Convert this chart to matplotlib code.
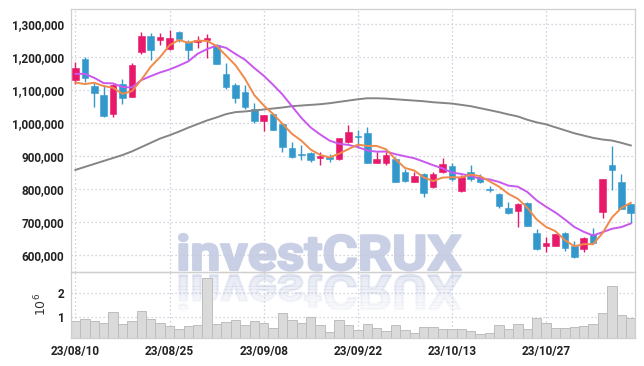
import matplotlib
matplotlib.use('Agg')
import matplotlib.pyplot as plt
from matplotlib.textpath import TextPath
from matplotlib.patches import PathPatch, Rectangle
from matplotlib.font_manager import FontProperties
from matplotlib.transforms import Affine2D, IdentityTransform
from matplotlib.ticker import FuncFormatter, FixedLocator
import numpy as np

# ---------------- data ----------------
dates = ['23/08/10', '23/08/11', '23/08/14', '23/08/16', '23/08/17', '23/08/18',
         '23/08/21', '23/08/22', '23/08/23', '23/08/24', '23/08/25', '23/08/28',
         '23/08/29', '23/08/30', '23/08/31', '23/09/01', '23/09/04', '23/09/05',
         '23/09/06', '23/09/07', '23/09/08', '23/09/11', '23/09/12', '23/09/13',
         '23/09/14', '23/09/15', '23/09/18', '23/09/19', '23/09/20', '23/09/21',
         '23/09/22', '23/09/25', '23/09/26', '23/09/27', '23/10/04', '23/10/05',
         '23/10/06', '23/10/10', '23/10/11', '23/10/12', '23/10/13', '23/10/16',
         '23/10/17', '23/10/18', '23/10/19', '23/10/20', '23/10/23', '23/10/24',
         '23/10/25', '23/10/26', '23/10/27', '23/10/30', '23/10/31', '23/11/01',
         '23/11/02', '23/11/03', '23/11/06', '23/11/07', '23/11/08', '23/11/09']

# prices in thousands of won
opens = [1129, 1193, 1111, 1084, 1026, 1117, 1079, 1214, 1263, 1251, 1224, 1275, 1243, 1245, 1250,
         1235, 1148, 1114, 1092, 1041, 1006, 1026, 995, 924, 905, 907, 892, 897, 889, 942,
         960, 968, 879, 879, 889, 852, 821, 845, 806, 852, 869, 794, 851, 835, 799,
         784, 741, 733, 758, 665, 627, 627, 665, 626, 616, 663, 730, 872, 820, 754]
highs = [1185, 1198, 1119, 1114, 1116, 1132, 1181, 1274, 1271, 1271, 1281, 1277, 1251, 1263, 1269,
         1239, 1180, 1119, 1115, 1061, 1024, 1027, 996, 942, 932, 912, 912, 904, 953, 992,
         979, 986, 912, 912, 897, 859, 852, 849, 852, 892, 879, 842, 872, 846, 808,
         788, 761, 758, 759, 677, 653, 664, 669, 642, 653, 680, 830, 928, 845, 755]
lows = [1116, 1122, 1047, 1018, 1016, 1057, 1077, 1207, 1189, 1235, 1219, 1243, 1189, 1225, 1195,
        1178, 1101, 1059, 1041, 998, 975, 977, 912, 894, 887, 882, 872, 882, 888, 939,
        923, 878, 877, 872, 820, 821, 820, 776, 801, 847, 823, 789, 824, 818, 791,
        741, 723, 683, 686, 613, 609, 625, 611, 589, 609, 632, 710, 796, 737, 695]
closes = [1167, 1136, 1091, 1021, 1114, 1076, 1175, 1263, 1220, 1260, 1256, 1254, 1221, 1252, 1256,
          1179, 1109, 1076, 1048, 1006, 1023, 979, 927, 897, 902, 887, 899, 889, 953, 971,
          956, 879, 889, 902, 821, 824, 839, 786, 845, 875, 829, 836, 829, 821, 797,
          748, 727, 754, 687, 618, 635, 662, 619, 594, 650, 635, 829, 857, 738, 727]

ma5 = [1122, 1117, 1121, 1111, 1105.8, 1087.6, 1095.4, 1129.8, 1169.6, 1198.8, 1234.8, 1250.6,
       1242.2, 1248.6, 1247.8, 1232.4, 1203.4, 1174.4, 1133.6, 1083.6, 1052.4, 1026.4, 996.6,
       966.4, 945.6, 918.4, 902.4, 894.8, 906.0, 919.8, 933.6, 929.6, 929.6, 919.4, 889.4,
       863.0, 855.0, 834.4, 823.0, 833.8, 834.8, 834.2, 842.8, 838.0, 822.4, 806.2, 784.4,
       769.4, 742.6, 706.8, 684.2, 671.2, 644.2, 625.6, 632.0, 632.0, 665.4, 713.0, 741.8, 757.2]
ma10 = [1148, 1148, 1136, 1120, 1119, 1108, 1107, 1129, 1141, 1152.3, 1161.2, 1173.0, 1186.0,
        1209.1, 1223.3, 1233.6, 1227.0, 1208.3, 1191.1, 1165.7, 1142.4, 1114.9, 1085.5, 1050.0,
        1014.6, 985.4, 964.4, 945.7, 936.2, 932.7, 926.0, 916.0, 912.2, 912.7, 904.6, 898.3,
        892.3, 882.0, 871.2, 861.6, 848.9, 844.6, 838.6, 830.5, 828.1, 820.5, 809.3, 806.1,
        790.3, 764.6, 745.2, 727.8, 706.8, 684.1, 669.4, 658.1, 668.3, 678.6, 683.7, 694.6]
ma60 = [857, 866, 875, 884, 893, 902, 913, 926, 939, 952, 962, 973, 985, 996, 1007, 1016, 1026,
        1032, 1034, 1037, 1040, 1043, 1046, 1050, 1052, 1054, 1056, 1059, 1063, 1067, 1071, 1074,
        1074, 1073, 1071, 1069, 1067, 1065, 1062, 1060, 1058, 1054, 1050, 1044, 1038, 1032, 1025,
        1019, 1009, 1001, 995, 986, 977, 968, 961, 954, 949, 946, 939, 931]

# volume in millions of shares
volume = [0.82, 0.89, 0.82, 0.74, 1.19, 0.69, 0.82, 1.24, 0.89, 0.72,
          0.60, 0.47, 0.60, 0.65, 2.67, 0.69, 0.76, 0.86, 0.65, 0.82,
          0.74, 0.50, 1.15, 0.86, 0.74, 0.97, 0.65, 0.36, 0.86, 0.65,
          0.43, 0.69, 0.50, 0.39, 0.65, 0.43, 0.32, 0.57, 0.55, 0.46,
          0.46, 0.46, 0.39, 0.26, 0.29, 0.65, 0.46, 0.69, 0.46, 0.93,
          0.72, 0.50, 0.50, 0.55, 0.60, 0.69, 1.15, 2.31, 1.07, 0.93]

tick_positions = [0, 10, 20, 30, 40, 50]
price_ticks = [600000, 700000, 800000, 900000, 1000000, 1100000, 1200000, 1300000]
volume_ticks = [1e6, 2e6]
volume_tick_labels = ['1', '2']
watermark = 'investCRUX'

# ---------------- style ----------------
UP = '#e8186a'
DOWN = '#3399cc'
C5 = '#f08a4b'
C10 = '#c858ee'
C60 = '#858585'
GRID = '#c6c6d8'
SPINE = '#cfcfcf'
TXT = '#222222'
FONT = 'Roboto'
WM = '#c9d0e6'

W, H = 644, 366
fig = plt.figure(figsize=(W / 100, H / 100), dpi=100)
fig.patch.set_facecolor('white')

L, R = 70.7, 635.5
ax = fig.add_axes([L / W, (H - 272) / H, (R - L) / W, (272 - 9) / H])
axv = fig.add_axes([L / W, (H - 337.7) / H, (R - L) / W, (337.7 - 272) / H], sharex=ax)
for a in (ax, axv):
    a.set_facecolor('none')
    for s in a.spines.values():
        s.set_color(SPINE)
        s.set_linewidth(0.9)
    a.grid(True, linestyle=(0, (1, 2.2)), color=GRID, linewidth=0.9)
    a.set_axisbelow(True)
    a.tick_params(length=0)

x = np.arange(len(dates))
o = np.array(opens) * 1000.0
h = np.array(highs) * 1000.0
l = np.array(lows) * 1000.0
c = np.array(closes) * 1000.0
cols = [UP if cc >= oo else DOWN for oo, cc in zip(o, c)]
bottoms = np.minimum(o, c)
heights = np.maximum(np.abs(c - o), 2500)

ax.vlines(x, l, h, colors=cols, linewidth=1.0, zorder=2)
ax.bar(x, heights, bottom=bottoms, width=0.7, color=cols, edgecolor=cols,
       linewidth=0.4, zorder=3)

ax.plot(x, np.array(ma60) * 1000, color=C60, linewidth=1.4, zorder=4)
ax.plot(x, np.array(ma10) * 1000, color=C10, linewidth=1.4, zorder=4)
ax.plot(x, np.array(ma5) * 1000, color=C5, linewidth=1.4, zorder=5)

ax.set_xlim(-0.5, len(dates) - 0.5)
ax.set_ylim(547600, 1344500)
ax.yaxis.set_major_locator(FixedLocator(price_ticks))
ax.yaxis.set_major_formatter(FuncFormatter(lambda v, p: f'{v:,.0f}'))
ax.tick_params(axis='x', labelbottom=False)
ax.tick_params(axis='y', pad=4.5)
for t in ax.get_yticklabels():
    t.set_fontfamily(FONT)
    t.set_fontweight('bold')
    t.set_fontsize(8.5)
    t.set_color(TXT)

axv.bar(x, np.array(volume) * 1e6, width=1.0, color='#dadada', edgecolor='#bdbdbd',
        linewidth=0.7, zorder=2)
axv.set_ylim(0.1e6, 2.91e6)
axv.set_yticks(volume_ticks)
axv.set_yticklabels(volume_tick_labels)
axv.set_xticks(tick_positions)
axv.set_xticklabels([dates[i] for i in tick_positions])
axv.tick_params(axis='y', pad=4.5)
axv.tick_params(axis='x', pad=5)
for t in axv.get_yticklabels() + axv.get_xticklabels():
    t.set_fontfamily(FONT)
    t.set_fontweight('bold')
    t.set_fontsize(8.5)
    t.set_color(TXT)
axv.set_ylabel('$10^6$', fontsize=9, color='#333333', labelpad=6)
ax.set_xticks(tick_positions)

# ---------------- watermark with reflection ----------------
fp = FontProperties(family='Roboto', weight='bold')
tp = TextPath((0, 0), watermark, size=100, prop=fp)
bb = tp.get_extents()
x0, x1 = 179, 461
ytop, ybot = 234, 270.5
sx = (x1 - x0) / bb.width
sy = (ybot - ytop) / bb.height
tr = Affine2D().translate(-bb.x0, -bb.y0).scale(sx, sy).translate(x0, H - ybot)
wm = PathPatch(tp, transform=tr, facecolor=WM, edgecolor=WM, linewidth=1.6,
               joinstyle='round', zorder=-2)
fig.add_artist(wm)

ref_top = 274.5
tr_r = Affine2D().translate(-bb.x0, -bb.y0).scale(sx, -sy).translate(x0, H - ref_top)
n = 12
span = ybot - ytop
for k in range(n):
    y_a = ref_top - 1 + (span + 2) * k / n
    frac = k / (n - 1)
    alpha = 0.45 * (1 - frac) + 0.06 * frac
    p = PathPatch(tp, transform=tr_r, facecolor=WM, edgecolor=WM, linewidth=1.6,
                  joinstyle='round', alpha=alpha, zorder=-2)
    fig.add_artist(p)
    clip = Rectangle((x0 - 5, H - (y_a + (span + 2) / n) - 0.3), (x1 - x0) + 10,
                     (span + 2) / n + 0.6, transform=IdentityTransform())
    p.set_clip_path(clip)

fig.savefig('out.png', dpi=100, facecolor='white')
